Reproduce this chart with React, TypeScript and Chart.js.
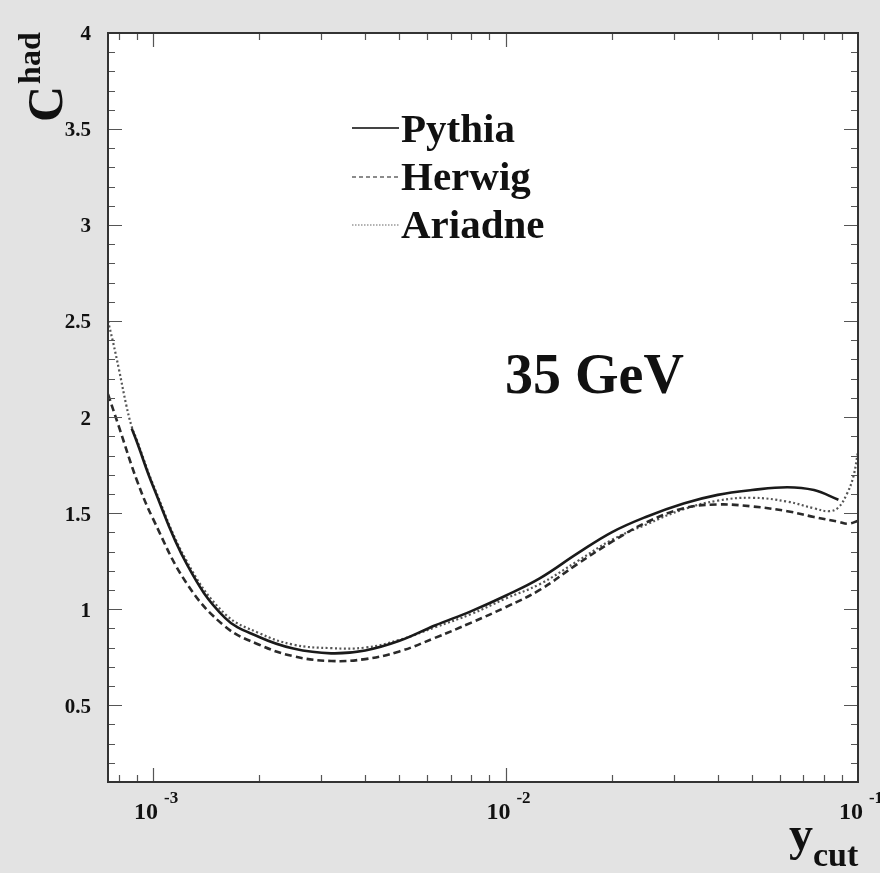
import React, { useEffect, useRef } from 'react';
import { Chart, registerables } from 'chart.js';

Chart.register(...registerables);

// ---- axis ranges ----
const X_MIN = 7.45e-4;
const X_MAX = 0.1;
const Y_MIN = 0.1;
const Y_MAX = 4;

// ---- series: Pythia (solid) ----
const pythiaX = [8.7e-4, 9e-4, 1e-3, 1.25e-3, 1.6e-3, 2e-3, 2.5e-3, 3.2e-3, 4e-3, 5e-3, 6.3e-3, 8e-3, 1e-2, 1.25e-2, 1.6e-2, 2e-2, 2.5e-2, 3.2e-2, 4e-2, 5e-2, 6.3e-2, 7.5e-2, 8.8e-2];
const pythiaY = [1.94, 1.87, 1.64, 1.23, 0.955, 0.855, 0.795, 0.77, 0.785, 0.835, 0.915, 0.99, 1.07, 1.16, 1.29, 1.4, 1.48, 1.55, 1.595, 1.62, 1.635, 1.62, 1.57];

// ---- series: Herwig (dashed) ----
const herwigX = [7.45e-4, 8e-4, 9e-4, 1e-3, 1.25e-3, 1.6e-3, 2e-3, 2.5e-3, 3.2e-3, 4e-3, 5e-3, 6.3e-3, 8e-3, 1e-2, 1.25e-2, 1.6e-2, 2e-2, 2.5e-2, 3.2e-2, 4e-2, 5e-2, 6.3e-2, 7.5e-2, 8.8e-2, 9.4e-2, 0.1];
const herwigY = [2.12, 1.95, 1.67, 1.47, 1.13, 0.91, 0.815, 0.755, 0.73, 0.74, 0.78, 0.85, 0.93, 1.01, 1.1, 1.235, 1.35, 1.45, 1.525, 1.545, 1.535, 1.51, 1.48, 1.455, 1.445, 1.46];

// ---- series: Ariadne (dotted) ----
const ariadneX = [7.45e-4, 7.7e-4, 8e-4, 8.4e-4, 8.7e-4, 9e-4, 1e-3, 1.25e-3, 1.6e-3, 2e-3, 2.5e-3, 3.2e-3, 4e-3, 5e-3, 6.3e-3, 8e-3, 1e-2, 1.25e-2, 1.6e-2, 2e-2, 2.5e-2, 3.2e-2, 4e-2, 5e-2, 6.3e-2, 7.5e-2, 8.3e-2, 8.8e-2, 9.3e-2, 9.7e-2, 0.1];
const ariadneY = [2.5, 2.39, 2.25, 2.06, 1.95, 1.88, 1.65, 1.245, 0.975, 0.875, 0.815, 0.797, 0.8, 0.84, 0.905, 0.975, 1.055, 1.13, 1.25, 1.36, 1.44, 1.52, 1.565, 1.58, 1.56, 1.525, 1.51, 1.53, 1.6, 1.69, 1.82];

// ---- labels ----
const seriesNames = ['Pythia', 'Herwig', 'Ariadne'];
const yTickValues = [0.5, 1, 1.5, 2, 2.5, 3, 3.5, 4];
const yTickLabels = ['0.5', '1', '1.5', '2', '2.5', '3', '3.5', '4'];
const xTickExponents = [-3, -2, -1];
const energyLabel = '35 GeV';
const yTitleMain = 'C';
const yTitleSup = 'had';
const xTitleMain = 'y';
const xTitleSub = 'cut';

const SERIF = '"Liberation Serif", "Times New Roman", serif';

const styles = [
  { color: '#1a1a1a', width: 2.6, dash: [] as number[], legendDash: [] as number[], legendColor: '#444', legendWidth: 2 },
  { color: '#2a2a2a', width: 2.6, dash: [7, 4], legendDash: [4, 3], legendColor: '#666', legendWidth: 1.6 },
  { color: '#555555', width: 2.2, dash: [2, 2.5], legendDash: [1.5, 1.5], legendColor: '#999', legendWidth: 1.6 },
];

const toPts = (xs: number[], ys: number[]) => xs.map((x, i) => ({ x, y: ys[i] }));

const decorPlugin = {
  id: 'decor',
  beforeDraw(chart: any) {
    const { ctx, chartArea: a, width, height } = chart;
    ctx.save();
    ctx.fillStyle = '#e3e3e3';
    ctx.fillRect(0, 0, width, height);
    ctx.fillStyle = '#ffffff';
    ctx.fillRect(a.left, a.top, a.right - a.left, a.bottom - a.top);
    ctx.restore();
  },
  afterDatasetsDraw(chart: any) {
    const { ctx, chartArea: a } = chart;
    const xs = chart.scales.x;
    const ys = chart.scales.y;
    ctx.save();

    // ticks (inward on all four sides)
    ctx.strokeStyle = '#555';
    ctx.lineWidth = 1.2;
    ctx.beginPath();
    for (let i = 2; i <= 39; i++) {
      const v = i / 10;
      const py = Math.round(ys.getPixelForValue(v)) + 0.5;
      const len = i % 5 === 0 ? 14 : 7;
      ctx.moveTo(a.left, py); ctx.lineTo(a.left + len, py);
      ctx.moveTo(a.right, py); ctx.lineTo(a.right - len, py);
    }
    for (let d = -4; d <= -1; d++) {
      for (let m = 1; m <= 9; m++) {
        const v = m * Math.pow(10, d);
        if (v <= X_MIN * 1.0001 || v >= X_MAX * 0.9999) continue;
        const px = Math.round(xs.getPixelForValue(v)) + 0.5;
        const len = m === 1 ? 14 : 7;
        ctx.moveTo(px, a.bottom); ctx.lineTo(px, a.bottom - len);
        ctx.moveTo(px, a.top); ctx.lineTo(px, a.top + len);
      }
    }
    ctx.stroke();

    // frame
    ctx.strokeStyle = '#333';
    ctx.lineWidth = 2;
    ctx.strokeRect(a.left, a.top, a.right - a.left, a.bottom - a.top);

    ctx.fillStyle = '#111';
    // y tick labels
    ctx.font = `bold 21px ${SERIF}`;
    ctx.textAlign = 'right';
    ctx.textBaseline = 'middle';
    yTickValues.forEach((v, i) => {
      ctx.fillText(yTickLabels[i], 91, ys.getPixelForValue(v) + 2);
    });

    // x tick labels 10^n
    ctx.textAlign = 'left';
    ctx.textBaseline = 'alphabetic';
    xTickExponents.forEach((e) => {
      const px = xs.getPixelForValue(Math.pow(10, e));
      ctx.font = `bold 24px ${SERIF}`;
      const w10 = ctx.measureText('10').width;
      ctx.font = `bold 17px ${SERIF}`;
      const sup = '-' + String(-e);
      const ws = ctx.measureText(sup).width;
      const total = w10 + 6 + ws;
      const x0 = px - total / 2 + 3;
      ctx.font = `bold 24px ${SERIF}`;
      ctx.fillText('10', x0, 819);
      ctx.font = `bold 17px ${SERIF}`;
      ctx.fillText(sup, x0 + w10 + 6, 803);
    });

    // y axis title (rotated)
    ctx.save();
    ctx.translate(62, 122);
    ctx.rotate(-Math.PI / 2);
    ctx.font = `bold 50px ${SERIF}`;
    ctx.fillText(yTitleMain, 0, 0);
    const wc = ctx.measureText(yTitleMain).width;
    ctx.font = `bold 32px ${SERIF}`;
    ctx.fillText(yTitleSup, wc + 2, -22);
    ctx.restore();

    // x axis title
    ctx.font = `bold 48px ${SERIF}`;
    ctx.fillText(xTitleMain, 789, 850);
    ctx.font = `bold 34px ${SERIF}`;
    ctx.fillText(xTitleSub, 813, 866);

    // legend
    const legY = [128, 177, 225];
    const baseY = [142, 190, 238];
    seriesNames.forEach((name, i) => {
      const st = styles[i];
      ctx.save();
      ctx.strokeStyle = st.legendColor;
      ctx.lineWidth = st.legendWidth;
      ctx.setLineDash(st.legendDash);
      ctx.beginPath();
      ctx.moveTo(352, legY[i]);
      ctx.lineTo(399, legY[i]);
      ctx.stroke();
      ctx.restore();
      ctx.font = `bold 41px ${SERIF}`;
      ctx.fillStyle = '#111';
      ctx.fillText(name, 401, baseY[i]);
    });

    // energy label
    ctx.font = `bold 56px ${SERIF}`;
    ctx.fillText(energyLabel, 505, 393);

    ctx.restore();
  },
};

export default function App() {
  const ref = useRef<HTMLCanvasElement>(null);
  useEffect(() => {
    if (!ref.current) return;
    const datasets = [
      toPts(pythiaX, pythiaY),
      toPts(herwigX, herwigY),
      toPts(ariadneX, ariadneY),
    ].map((data, i) => ({
      label: seriesNames[i],
      data,
      borderColor: styles[i].color,
      borderWidth: styles[i].width,
      borderDash: styles[i].dash,
      pointRadius: 0,
      fill: false,
      tension: 0.4,
    }));
    const chart = new Chart(ref.current, {
      type: 'line',
      data: { datasets },
      options: {
        responsive: false,
        animation: false,
        devicePixelRatio: 1,
        parsing: false as any,
        layout: { padding: { left: 108, top: 33, right: 22, bottom: 91 } },
        plugins: { legend: { display: false }, tooltip: { enabled: false }, title: { display: false } },
        scales: {
          x: { type: 'logarithmic', min: X_MIN, max: X_MAX, display: false },
          y: { type: 'linear', min: Y_MIN, max: Y_MAX, display: false },
        },
      },
      plugins: [decorPlugin],
    });
    return () => chart.destroy();
  }, []);
  return (
    <div style={{ position: 'absolute', left: 0, top: 0, width: 880, height: 873 }}>
      <canvas ref={ref} width={880} height={873} style={{ display: 'block' }} />
    </div>
  );
}
